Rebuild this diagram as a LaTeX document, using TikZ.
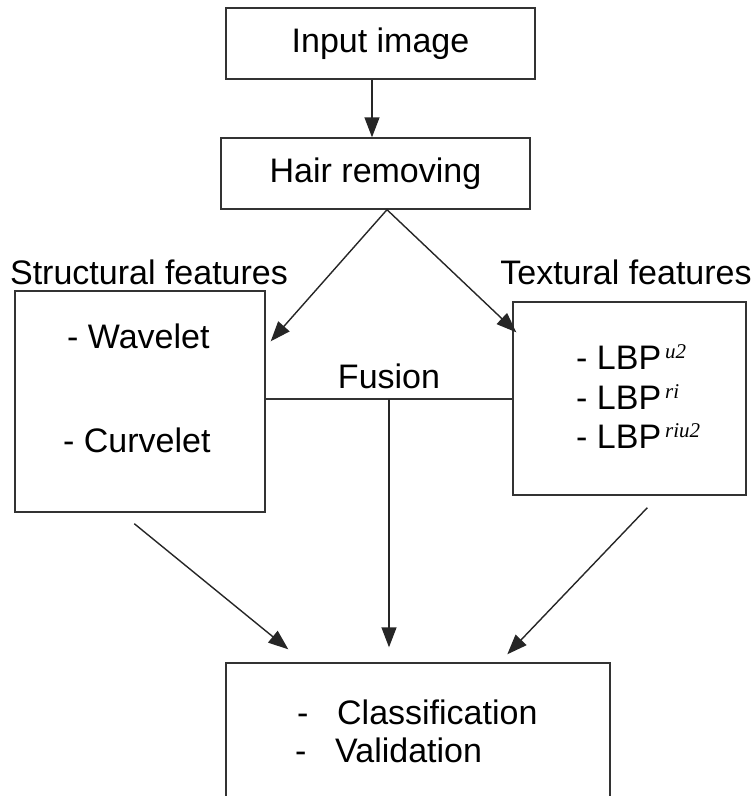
\documentclass[tikz,border=0pt]{standalone}
\usepackage{fontspec}
\setmainfont{Liberation Sans}
\newfontfamily\supfont{Liberation Serif}
\usetikzlibrary{arrows.meta,calc}
\newcommand{\lbp}[1]{- LBP\hspace{4pt}\raisebox{11pt}{\fontsize{21}{23}\supfont\itshape #1}}
\newcommand{\dashitem}[1]{\makebox[40pt][l]{-}#1}

\begin{document}
\begin{tikzpicture}[x=1pt,y=-1pt,
		box/.style={draw=black!80,line width=1.4pt,inner sep=0pt,font=\fontsize{34}{40}\selectfont},
		lbl/.style={inner sep=0pt,font=\fontsize{34}{40}\selectfont},
		arr/.style={draw=black!85,line width=1.4pt,-{Triangle[length=20pt,width=15pt]}}]
			%%%%% START %%%%%
			
			\clip (0, 0) rectangle (755, 796);
			
			\node[box, minimum width=309pt, minimum height=71pt] (input) at (380.5, 43.5) {Input image};
			\node[box, minimum width=309pt, minimum height=71pt] (hair) at (375.5, 173.5) {Hair removing};
			
			\node[box, minimum width=250pt, minimum height=221pt] (struct) at (140, 401.5) {};
			\node[box, minimum width=233pt, minimum height=193pt] (textur) at (629.5, 398.5) {};
			\node[box, minimum width=384pt, minimum height=200pt] (classif) at (418, 763) {};
			
			\node[lbl, anchor=base] (structlbl) at (149, 284) {Structural features};
			\node[lbl, anchor=base] (texturlbl) at (626, 284) {Textural features};
			
			\node[lbl, anchor=base west] (wavelet) at (67, 348) {- Wavelet};
			\node[lbl, anchor=base west] (curvelet) at (63, 452) {- Curvelet};
			
			\node[lbl, anchor=base west] (lbpa) at (576, 369) {\lbp{u2}};
			\node[lbl, anchor=base west] (lbpb) at (576, 409) {\lbp{ri}};
			\node[lbl, anchor=base west] (lbpc) at (576, 448) {\lbp{riu2}};
			
			\node[lbl, anchor=base] (fusionlbl) at (389, 388) {Fusion};
			\coordinate (fuse) at (389, 399);
			
			\node[lbl, anchor=base west] (classlbl) at (297, 724) {\dashitem{Classification}};
			\node[lbl, anchor=base west] (validlbl) at (295, 762) {\dashitem{Validation}};
			
			\draw[arr] ([xshift=-8.5pt]input.south) -- ([xshift=-8.5pt]input.south |- hair.north);
			\draw[arr] ([xshift=11.5pt]hair.south) -- ($(struct.north east)+(5, 51)$);
			\draw[arr] ([xshift=11.5pt]hair.south) -- ($(textur.north west)+(4, 31)$);
			
			\draw[draw=black!80, line width=1.4pt] (struct.east |- fuse) -- (textur.west |- fuse);
			\draw[arr] (fuse) -- ($(fuse |- classif.north)+(0, -15)$);
			
			\draw[arr] ($(struct.south west)+(120, 11)$) -- ($(classif.north west)+(63, -13)$);
			\draw[arr] ($(textur.south west)+(135, 12)$) -- ($(classif.north west)+(282, -8)$);
			
			%%%%% END %%%%%
\end{tikzpicture}
\end{document}
